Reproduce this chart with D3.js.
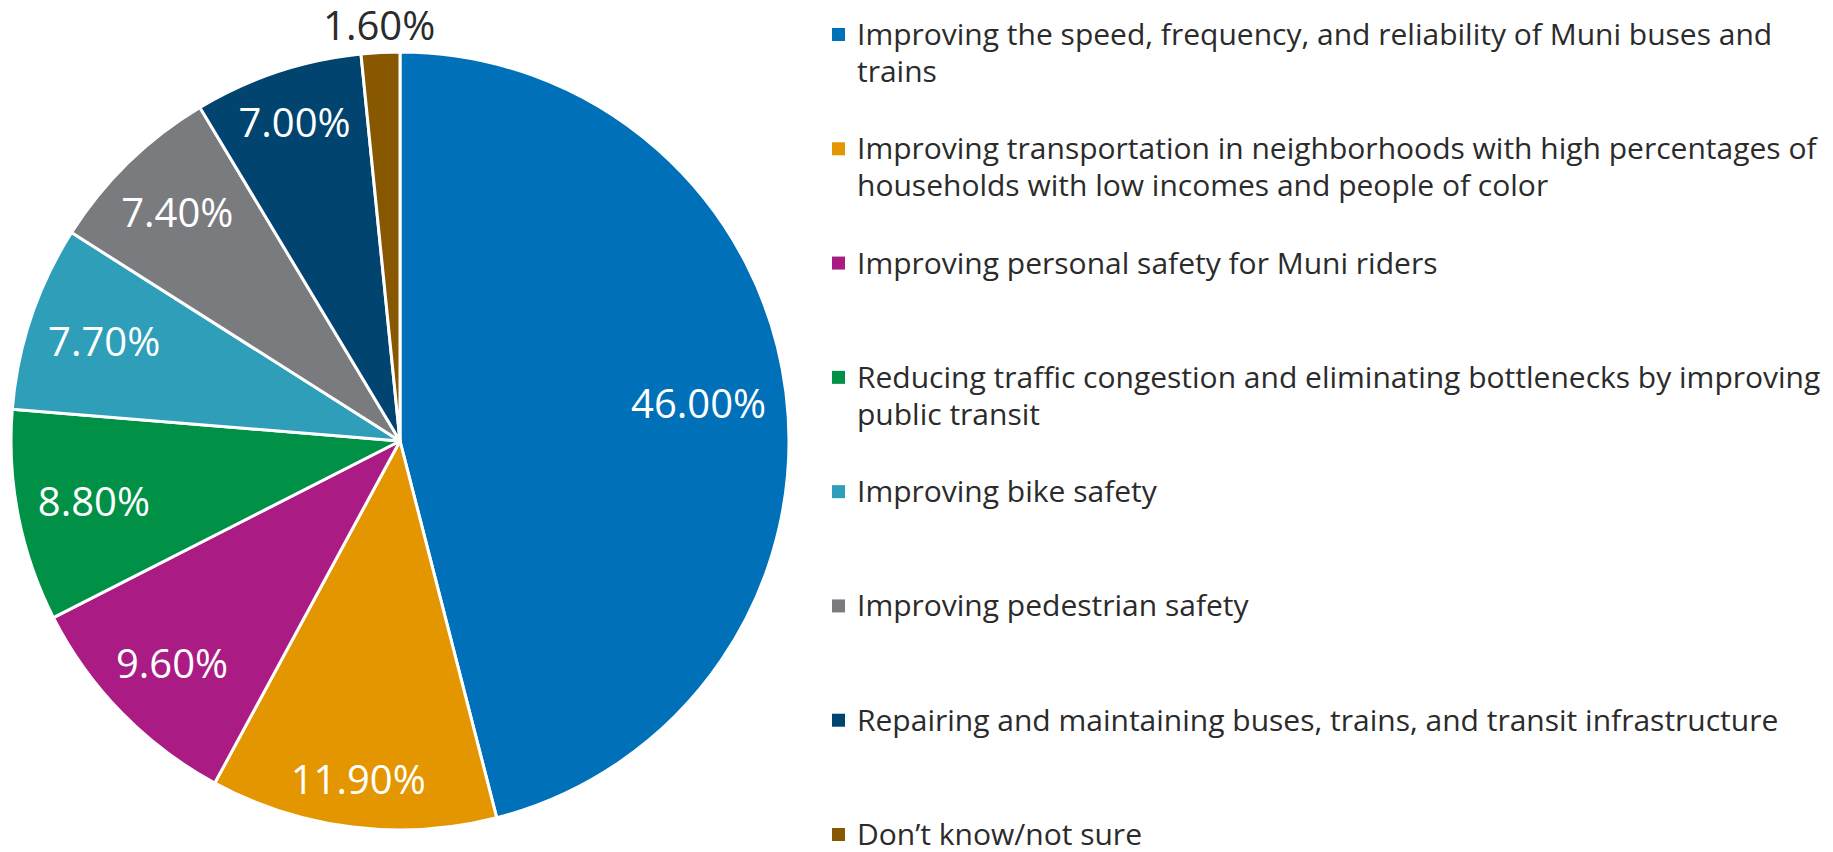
<!DOCTYPE html>
<html>
<head>
<meta charset="utf-8">
<script src="https://cdn.jsdelivr.net/npm/d3@7"></script>
<style>
  body { margin: 0; background: #fff; }
  svg { display: block; }
</style>
</head>
<body>
<div id="chart"></div>
<script>
// survey answers, clockwise from 12 o'clock
var categories = [
  "Improving the speed, frequency, and reliability of Muni buses and\ntrains",
  "Improving transportation in neighborhoods with high percentages of\nhouseholds with low incomes and people of color",
  "Improving personal safety for Muni riders",
  "Reducing traffic congestion and eliminating bottlenecks by improving\npublic transit",
  "Improving bike safety",
  "Improving pedestrian safety",
  "Repairing and maintaining buses, trains, and transit infrastructure",
  "Don\u2019t know/not sure"
];
var values = [46.0, 11.9, 9.6, 8.8, 7.7, 7.4, 7.0, 1.6];
var colors = ["#0070b9", "#e39600", "#aa1c84", "#009147", "#2e9eb9", "#7a7b7f", "#00446f", "#875800"];

var width = 1833, height = 852;
var cx = 400, cy = 441, radius = 389;
var font = '"Open Sans", "Noto Sans", sans-serif';
var pctSize = 40;

var svg = d3.select("#chart")
  .append("svg")
  .attr("width", width)
  .attr("height", height);

var data = values.map(function (v, i) { return { value: v, name: categories[i], color: colors[i] } });

var pie = d3.pie()
  .value(function (d) { return d.value })
  .sort(null);

var arc = d3.arc()
  .innerRadius(0)
  .outerRadius(radius);

// small slices get their label outside the rim
var outerArc = d3.arc()
  .innerRadius(radius + 27)
  .outerRadius(radius + 27);

var g = svg.append("g")
  .attr("transform", "translate(" + cx + "," + cy + ")");

var arcs = pie(data);

g.selectAll("path")
  .data(arcs)
  .enter()
  .append("path")
    .attr("d", arc)
    .attr("fill", function (d) { return d.data.color })
    .attr("stroke", "#fff")
    .attr("stroke-width", 3)
    .attr("stroke-linejoin", "round");

var labels = g.selectAll("text.pct")
  .data(arcs)
  .enter()
  .append("text")
    .attr("class", "pct")
    .attr("text-anchor", "middle")
    .attr("dy", "0.36em")
    .style("font-family", font)
    .style("font-size", pctSize + "px")
    .attr("fill", function (d) { return d.data.value < 3 ? "#2b2b2b" : "#fff" })
    .text(function (d) { return d.data.value.toFixed(2) + "%" });

// push each inside label out along its mid-angle as far as its box still fits in the pie
var limit = radius - 19;
labels.attr("transform", function (d) {
  if (d.data.value < 3) return "translate(" + outerArc.centroid(d) + ")";
  var a = (d.startAngle + d.endAngle) / 2;
  var dx = Math.sin(a), dy = -Math.cos(a);
  var hw = this.getComputedTextLength() / 2, hh = pctSize * 0.36;
  var dist = limit;
  while (dist > 0) {
    var x = dx * dist, y = dy * dist;
    var far = d3.max([[-hw, -hh], [hw, -hh], [-hw, hh], [hw, hh]], function (c) {
      return Math.hypot(x + c[0], y + c[1]);
    });
    if (far <= limit) break;
    dist -= 0.5;
  }
  return "translate(" + (dx * dist) + "," + (dy * dist) + ")";
});

// legend on the right
var legendY = d3.scaleLinear()
  .domain([0, categories.length - 1])
  .range([45, 845]);

var legend = svg.append("g")
  .attr("transform", "translate(832,0)");

var items = legend.selectAll("g")
  .data(data)
  .enter()
  .append("g")
    .attr("transform", function (d, i) { return "translate(0," + legendY(i) + ")" });

items.append("rect")
  .attr("x", 0)
  .attr("y", -17)
  .attr("width", 13)
  .attr("height", 13)
  .attr("fill", function (d) { return d.color });

items.append("text")
  .attr("x", 25)
  .style("font-family", font)
  .style("font-size", "30px")
  .attr("fill", "#2b2b2b")
  .selectAll("tspan")
  .data(function (d) { return d.name.split("\n") })
  .enter()
  .append("tspan")
    .attr("x", 25)
    .attr("dy", function (d, i) { return i == 0 ? 0 : 36.7 })
    .text(function (d) { return d });
</script>
</body>
</html>
